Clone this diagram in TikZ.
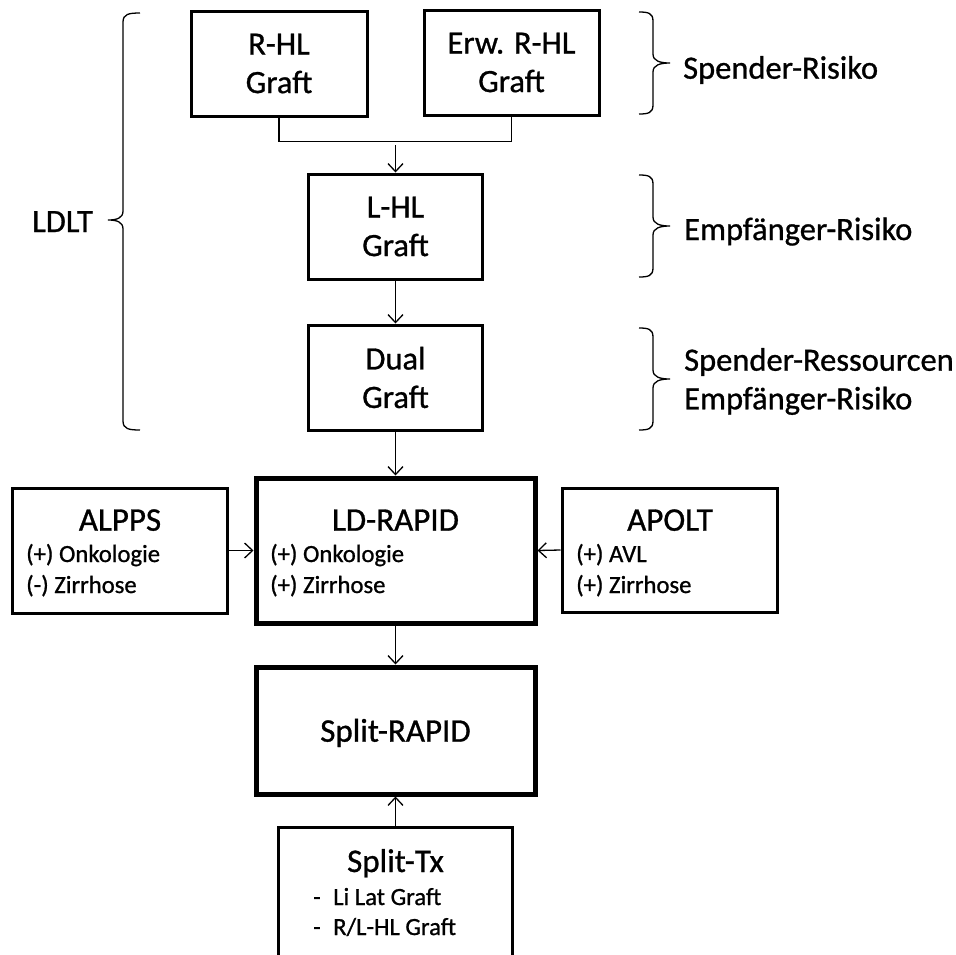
\documentclass[tikz,border=0pt]{standalone}
\usepackage{fontspec}
\setmainfont[FakeBold=0.9]{Carlito}
\usetikzlibrary{arrows.meta}
\begin{document}
\begin{tikzpicture}[x=1pt,y=-1pt,
  thinbox/.style={draw, line width=3pt, inner sep=0pt, align=center,
    font=\fontsize{32.5}{38.5}\selectfont},
  thickbox/.style={draw, line width=5pt, inner sep=0pt, align=center,
    font=\fontsize{32.5}{38.5}\selectfont},
  ttl/.style={anchor=base, inner sep=0pt, font=\fontsize{33}{38}\selectfont},
  itm/.style={anchor=base west, inner sep=0pt, font=\fontsize{24.7}{29}\selectfont},
  lbl/.style={anchor=base west, inner sep=0pt, font=\fontsize{32.5}{38.5}\selectfont},
  conn/.style={line width=1.3pt},
  arr/.style={line width=1.3pt, -{Straight Barb[length=8pt,width=15pt]}},
  brc/.style={line width=1.3pt}]
\useasboundingbox (0,0) rectangle (956,954);

% top boxes
\node[thinbox, minimum width=176pt, minimum height=105pt] (rhl) at (279,63.5) {R-HL\\Graft};
\node[thinbox, minimum width=175pt, minimum height=105pt] (erw) at (511.5,62.5) {Erw. R-HL\\Graft};
\node[thinbox, minimum width=174pt, minimum height=105pt] (lhl) at (395.5,226.5) {L-HL\\Graft};
\node[thinbox, minimum width=174pt, minimum height=105pt] (dual) at (395.5,377.5) {Dual\\Graft};

% middle row
\node[thickbox, minimum width=279pt, minimum height=145pt] (ld) at (395.5,550.5) {};
\node[thinbox, minimum width=215pt, minimum height=125pt] (alpps) at (119.5,550.5) {};
\node[thinbox, minimum width=215pt, minimum height=124pt] (apolt) at (669.5,550) {};

\node[ttl] (alppsT) at (120,530.7) {ALPPS};
\node[itm] (alpps1) at (26,562) {(+) Onkologie};
\node[itm] (alpps2) at (26,593) {(-) Zirrhose};

\node[ttl] (ldT) at (395.5,530.7) {LD-RAPID};
\node[itm] (ld1) at (270,562) {(+) Onkologie};
\node[itm] (ld2) at (270,593) {(+) Zirrhose};

\node[ttl] (apoltT) at (670,530.7) {APOLT};
\node[itm] (apolt1) at (576,562) {(+) AVL};
\node[itm] (apolt2) at (576,593) {(+) Zirrhose};

% Split-RAPID
\node[thickbox, minimum width=279pt, minimum height=127pt] (sr) at (395.5,730.5) {};
\node[ttl] (srT) at (395.5,741.7) {Split-RAPID};

% Split-Tx (open at the bottom)
\node[inner sep=0pt, minimum width=233pt, minimum height=144pt] (stx) at (395.5,900) {};
\draw[line width=3pt] (stx.south west) -- (stx.north west) -- (stx.north east) -- (stx.south east);
\node[ttl] (stxT) at (395.5,872) {Split-Tx};
\node[itm] (stxd1) at (313,905) {-};
\node[itm] (stx1) at (333,905) {Li Lat Graft};
\node[itm] (stxd2) at (313,935) {-};
\node[itm] (stx2) at (333,935) {R/L-HL Graft};

% connectors
\coordinate (j) at (395.5,141.7);
\coordinate (jt) at (395.5,145);
\draw[conn] (rhl.south) |- (j) -| (erw.south);
\draw[arr] (jt) -- (lhl.north);
\draw[arr] (lhl.south) -- (dual.north);
\draw[arr] (dual.south) -- (ld.north);
\draw[arr] (alpps.east) -- (ld.west);
\draw[arr] (apolt.west) -- (ld.east);
\draw[arr] (ld.south) -- (sr.north);
\draw[arr] (stx.north) -- (sr.south);

% left brace (LDLT)
\draw[brc] (140,13) .. controls (129,13) and (123,14) .. (123,22)
  -- (123,211) .. controls (123,218) and (117,220) .. (108,220)
  .. controls (117,220) and (123,222) .. (123,229)
  -- (123,421) .. controls (123,429) and (129,430) .. (140,430);
\node[lbl] (ldlt) at (32,232) {LDLT};

% right braces
\foreach \t/\b/\m in {12/114/63, 175/277/226, 328/430/379}{
  \draw[brc] (639,\t) .. controls (648,\t) and (653,\t+1) .. (653,\t+9)
    -- (653,\m-9) .. controls (653,\m-2) and (660,\m) .. (670,\m)
    .. controls (660,\m) and (653,\m+2) .. (653,\m+9)
    -- (653,\b-9) .. controls (653,\b-1) and (648,\b) .. (639,\b);
}
\node[lbl] (r1) at (683,78.7) {Spender-Risiko};
\node[lbl] (r2) at (684,240) {Empfänger-Risiko};
\node[lbl] (r3a) at (684,370.7) {Spender-Ressourcen};
\node[lbl] (r3b) at (684,409.3) {Empfänger-Risiko};
\end{tikzpicture}
\end{document}
